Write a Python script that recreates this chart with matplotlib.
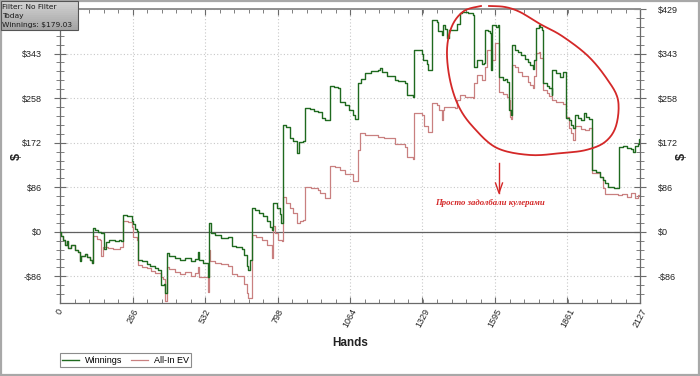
import numpy as np
import matplotlib
matplotlib.use("Agg")
import matplotlib.pyplot as plt
from matplotlib.transforms import Affine2D
from matplotlib.patches import Rectangle
from matplotlib.lines import Line2D
from matplotlib.colors import to_rgb

# ---------------- data ----------------
win_hands = [0, 5, 10, 18, 25, 30, 40, 55, 65, 73, 78, 92, 100, 110, 116, 122, 130, 141, 150, 163,
             170, 180, 200, 215, 225, 230, 245, 258, 263, 268, 275, 282, 287, 300, 318, 330, 348, 360,
             370, 380, 385, 391, 400, 422, 440, 460, 480, 495, 507, 510, 525, 541, 546, 555, 570, 590,
             617, 629, 645, 666, 675, 685, 690, 698, 703, 715, 730, 745, 760, 770, 776, 782, 795, 805,
             810, 819, 830, 843, 855, 868, 878, 890, 898, 915, 930, 947, 960, 972, 990, 1005, 1021,
             1027, 1045, 1060, 1075, 1082, 1094, 1105, 1118, 1140, 1167, 1173, 1180, 1200, 1228, 1240,
             1265, 1271, 1296, 1299, 1326, 1330, 1345, 1351, 1363, 1381, 1388, 1400, 1406, 1412, 1418,
             1425, 1449, 1455, 1467, 1475, 1485, 1495, 1516, 1519, 1530, 1546, 1555, 1559, 1570, 1577,
             1581, 1585, 1600, 1607, 1610, 1625, 1632, 1640, 1646, 1655, 1659, 1670, 1681, 1690, 1705,
             1717, 1725, 1736, 1740, 1745, 1755, 1760, 1766, 1772, 1785, 1795, 1803, 1806, 1820, 1835,
             1846, 1856, 1866, 1875, 1883, 1889, 1900, 1910, 1920, 1930, 1940, 1950, 1952, 1965, 1980,
             1990, 1998, 2010, 2030, 2047, 2050, 2065, 2080, 2095, 2102, 2110, 2118, 2123, 2127]
win_vals = [0, -8, -15, -25, -18, -31, -25, -35, -38, -57, -47, -42, -48, -55, -60, 7, 4, 0, -3, -34,
            -20, -16, -18, -15, -18, 33, 31, 30, 20, 15, 5, 2, -54, -56, -62, -66, -70, -73,
            -102, -100, -118, -40, -47, -50, -55, -50, -57, -52, -38, -55, -60, -86, 17, -3, -6, -11,
            -10, -28, -30, -33, -45, -66, -73, -55, 45, 42, 36, 30, 20, 10, 4, 55, 45, 35,
            17, 205, 202, 180, 175, 151, 173, 175, 238, 236, 233, 231, 220, 215, 280, 279, 277,
            250, 244, 234, 225, 218, 286, 295, 306, 310, 312, 315, 308, 300, 292, 290,
            286, 263, 260, 350, 343, 330, 323, 312, 408, 404, 386, 379, 398, 390, 373,
            389, 389, 400, 421, 424, 424, 421, 418, 318, 330, 323, 325, 389, 386, 382,
            312, 398, 395, 398, 299, 292, 295, 289, 235, 225, 360, 350, 346, 340, 333,
            327, 321, 314, 330, 392, 398, 395, 389, 286, 280, 276, 264, 312, 305, 299,
            308, 219, 215, 205, 199, 225, 219, 215, 228, 222, 218, 215, 119, 116, 106,
            100, 94, 87, 85, 84, 164, 166, 162, 160, 154, 165, 170, 179, 179.03]

ev_hands = [0, 5, 10, 18, 25, 30, 40, 55, 65, 73, 78, 92, 100, 110, 116, 122, 135, 145, 150, 158,
            175, 195, 220, 230, 250, 263, 268, 282, 287, 300, 320, 335, 348, 370, 378, 385, 391, 400,
            422, 440, 460, 480, 495, 507, 510, 530, 541, 546, 550, 570, 590, 617, 629, 650, 666, 675,
            685, 690, 703, 720, 740, 760, 776, 782, 790, 800, 813, 819, 830, 843, 855, 868, 880, 890,
            898, 920, 947, 955, 972, 990, 1010, 1027, 1045, 1075, 1094, 1100, 1118, 1167, 1190, 1228,
            1265, 1271, 1296, 1299, 1326, 1335, 1351, 1363, 1381, 1390, 1400, 1403, 1410, 1449, 1455,
            1467, 1485, 1516, 1519, 1530, 1546, 1559, 1565, 1577, 1583, 1595, 1607, 1610, 1625, 1640,
            1646, 1650, 1655, 1659, 1670, 1681, 1695, 1717, 1725, 1736, 1740, 1745, 1755, 1760, 1772,
            1785, 1795, 1803, 1820, 1846, 1856, 1866, 1875, 1883, 1889, 1910, 1925, 1940, 1950, 1952,
            1980, 1990, 1998, 2010, 2047, 2060, 2080, 2095, 2110, 2120, 2127]
ev_vals = [0, -8, -15, -25, -18, -31, -25, -35, -38, -55, -47, -42, -48, -55, -60, -8, -13, -15, -47, -30,
           -32, -34, -30, 20, 18, 10, -10, -15, -63, -67, -70, -76, -80, -86, -90, -134, -67, -72,
           -78, -82, -78, -85, -80, -67, -86, -86, -115, -35, -57, -60, -62, -66, -82, -85, -85, -100,
           -117, -127, -6, -10, -15, -25, -50, 11, -3, -15, -18, 68, 55, 46, 36, 17, 20, 23,
           87, 84, 81, 74, 65, 126, 124, 120, 111, 98, 158, 190, 186, 183, 180, 170,
           164, 144, 141, 228, 225, 203, 193, 248, 244, 235, 215, 235, 241, 238, 254,
           264, 260, 257, 286, 302, 292, 318, 350, 350, 330, 363, 363, 270, 266, 260,
           254, 221, 218, 321, 318, 308, 300, 289, 283, 276, 300, 344, 347, 334, 273,
           268, 262, 254, 250, 247, 222, 199, 190, 177, 203, 198, 196, 200, 196, 113,
           106, 85, 72, 73, 71, 72, 68, 74, 66, 70, 69]

x_ticks = [0, 266, 532, 798, 1064, 1329, 1595, 1861, 2127]
y_ticks = [-85.8, 0, 85.8, 171.6, 257.4, 343.2, 429]
y_labels = ["-$86", "$0", "$86", "$172", "$258", "$343", "$429"]
series_names = ["Winnings", "All-In EV"]
info_lines = ["Filter: No Filter", "Today", "Winnings: $179.03"]
note_text = "Просто задолбали кулерами"

GREEN = "#1f6a1f"
RED = "#c98080"
NOTE = "#d42828"

W, H = 700, 376
fig = plt.figure(figsize=(W / 100, H / 100), dpi=100)
fig.patch.set_facecolor("white")
ax = fig.add_axes([60 / W, (H - 303) / H, 580 / W, 294 / H])

ax.plot(ev_hands, ev_vals, drawstyle="steps-post", color=RED, lw=0.9, zorder=3)
ax.plot(win_hands, win_vals, drawstyle="steps-post", color=GREEN, lw=1.0, zorder=4)

ax.set_xlim(0, 2127)
ax.set_ylim(-137, 429)
ax.axhline(0, color="#606060", lw=0.9, zorder=2)

ax.set_xticks(x_ticks)
ax.set_xticklabels([str(v) for v in x_ticks], rotation=62, ha="center", va="top")
ax.set_xticks(np.arange(0, 2127.1, 2127 / 40), minor=True)
ax.set_yticks(y_ticks)
ax.set_yticklabels(y_labels)
ax.set_yticks([v for v in np.arange(-85.8 * 2, 430, 85.8 / 5) if -137 <= v <= 429.5], minor=True)

ax.grid(True, which="major", color="#c8c8c8", ls=(0, (1, 2)), lw=0.8)
for s in ax.spines.values():
    s.set_color("#6a6a6a")
    s.set_linewidth(0.9)
ax.spines["top"].set_color("#909090")
ax.spines["top"].set_linewidth(1.4)

ax.tick_params(axis="x", which="both", direction="in", top=True, bottom=True, colors="#6a6a6a",
               labelcolor="#222222", pad=3)
ax.tick_params(axis="x", which="major", length=4)
ax.tick_params(axis="x", which="minor", length=3)
ax.tick_params(axis="y", which="both", direction="inout", left=True, right=True, labelright=True,
               colors="#6a6a6a", labelcolor="#222222")
ax.tick_params(axis="y", which="major", length=8, pad=9)
ax.tick_params(axis="y", which="minor", length=6)
for lab in ax.get_xticklabels() + ax.get_yticklabels():
    lab.set_fontfamily("Liberation Sans")
    lab.set_fontsize(6.5)

# axis titles
px = Affine2D().scale(1, -1).translate(0, H)
fig.text(350, 343, "Hands", transform=px, ha="center", va="center", fontsize=8.5,
         fontweight="bold", family="Liberation Sans", color="#222222")
fig.text(17, 157, "$", transform=px, ha="center", va="center", fontsize=9, rotation=90,
         fontweight="bold", family="Liberation Sans", color="#222222")
fig.text(682, 157, "$", transform=px, ha="center", va="center", fontsize=9, rotation=90,
         fontweight="bold", family="Liberation Sans", color="#222222")

# legend
handles = [Line2D([], [], color=GREEN, lw=1.0), Line2D([], [], color=RED, lw=0.9)]
leg = fig.legend(handles, series_names, loc="lower left",
                 bbox_to_anchor=(60 / W, (H - 367) / H), ncol=2, frameon=True, fancybox=False,
                 prop=dict(family="Liberation Sans", size=6.5), handlelength=1.9,
                 handletextpad=0.6, columnspacing=1.0, borderpad=0.25, borderaxespad=0)
leg.get_frame().set_edgecolor("#707070")
leg.get_frame().set_linewidth(0.8)

# info box with a banded gray gradient (figure-level patches)
top_c, bot_c = np.array(to_rgb("#d2d2d2")), np.array(to_rgb("#a6a6a6"))
nb = 14
bx0, by0, bw, bh = 0.5, 0.5, 77.5, 29.0
for k in range(nb):
    c = top_c + (bot_c - top_c) * k / (nb - 1)
    fig.add_artist(Rectangle((bx0, by0 + bh * k / nb), bw, bh / nb + 0.3, transform=px,
                             facecolor=c, edgecolor="none", zorder=5))
fig.add_artist(Rectangle((bx0, by0), bw, bh, transform=px, fill=False, edgecolor="#555555",
                         lw=0.8, zorder=6))
for i, t in enumerate(info_lines):
    fig.text(2.5, 7.0 + 8.8 * i, t, transform=px, ha="left", va="center", fontsize=5.4,
             family="DejaVu Sans", color="#1a1a1a", zorder=7)

# hand-drawn style annotation (loop, arrow, note)
loop_pts = np.array([(489, 6), (505, 7), (520, 12), (540, 24), (562, 36), (588, 56), (607, 79),
                     (618, 100), (616, 126), (605, 142), (586, 150), (562, 153), (530, 155),
                     (497, 148), (474, 128), (459, 107), (450, 80), (447, 50), (452, 26),
                     (464, 11), (481, 6)], dtype=float)


def catmull(p, n=12):
    out = []
    pp = np.vstack([p[0], p, p[-1]])
    for i in range(1, len(pp) - 2):
        p0, p1, p2, p3 = pp[i - 1], pp[i], pp[i + 1], pp[i + 2]
        for t in np.linspace(0, 1, n, endpoint=False):
            t2, t3 = t * t, t * t * t
            out.append(0.5 * ((2 * p1) + (-p0 + p2) * t + (2 * p0 - 5 * p1 + 4 * p2 - p3) * t2
                              + (-p0 + 3 * p1 - 3 * p2 + p3) * t3))
    out.append(pp[-2])
    return np.array(out)


curve = catmull(loop_pts)
fig.add_artist(Line2D(curve[:, 0], curve[:, 1], transform=px, color=NOTE, lw=1.3))
fig.add_artist(Line2D([499, 499], [163, 193], transform=px, color=NOTE, lw=1.0))
fig.add_artist(Line2D([495.5, 499, 502.5], [183, 193, 183], transform=px, color=NOTE, lw=1.0))
fig.text(490, 203, note_text, transform=px, ha="center", va="center", fontsize=6.3,
         fontweight="bold", fontstyle="italic", family="Liberation Serif", color=NOTE)

# outer border of image
fig.add_artist(Rectangle((0.002, 0.003), 0.996, 0.994, transform=fig.transFigure, fill=False,
                         edgecolor="#a8a8a8", lw=1.6))

fig.savefig("out.png", dpi=100)
